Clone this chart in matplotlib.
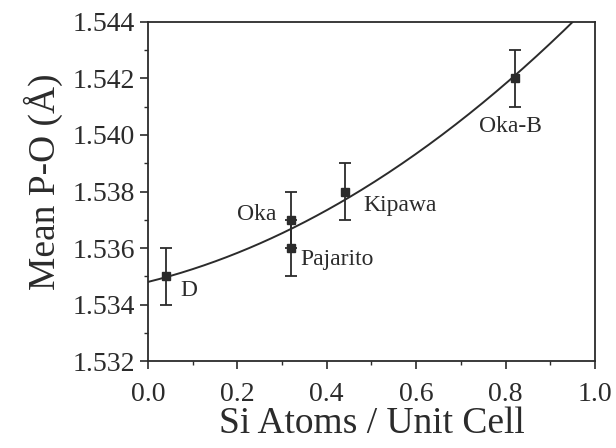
import numpy as np
import matplotlib
matplotlib.use("Agg")
import matplotlib.pyplot as plt
from matplotlib.ticker import MultipleLocator

# samples: Si atoms per unit cell vs mean P-O distance
names = ["D", "Oka", "Pajarito", "Kipawa", "Oka-B"]
si = [0.04, 0.32, 0.32, 0.44, 0.82]
po = [1.535, 1.537, 1.536, 1.538, 1.542]
err = [0.001, 0.001, 0.001, 0.001, 0.001]

# label anchor points (data coords) and alignment
label_x = [0.072, 0.287, 0.342, 0.483, 0.81]
label_y = [1.5345, 1.5372, 1.5356, 1.5375, 1.5403]
label_ha = ["left", "right", "left", "left", "center"]

# fitted curve coefficients (quadratic)
fit_c = [0.006066, 0.003922, 1.5348]

plt.rcParams["font.family"] = ["Liberation Serif", "DejaVu Serif"]
ink = "#2b2b2b"

fig = plt.figure(figsize=(6.16, 4.48), dpi=100)
ax = fig.add_axes([0.240, 0.194, 0.726, 0.757])

xs = np.linspace(0, 1, 200)
ax.plot(xs, np.polyval(fit_c, xs), color=ink, lw=1.4)
ax.errorbar(si, po, yerr=err, fmt="s", color=ink, ms=6, capsize=4,
            elinewidth=1.3, capthick=1.3)

for n, x, y, ha in zip(names, label_x, label_y, label_ha):
    ax.text(x, y, n, ha=ha, va="center", fontsize=17, color=ink)

ax.set_xlim(0, 1.0)
ax.set_ylim(1.532, 1.544)
ax.xaxis.set_major_locator(MultipleLocator(0.2))
ax.xaxis.set_minor_locator(MultipleLocator(0.1))
ax.yaxis.set_major_locator(MultipleLocator(0.002))
ax.yaxis.set_minor_locator(MultipleLocator(0.001))
ax.xaxis.set_major_formatter(plt.FormatStrFormatter("%.1f"))
ax.yaxis.set_major_formatter(plt.FormatStrFormatter("%.3f"))
ax.tick_params(which="both", direction="out", colors=ink, labelsize=20,
               top=False, right=False)
ax.tick_params(which="major", length=6, width=1.2)
ax.tick_params(which="minor", length=3, width=1.0)
ax.tick_params(axis="x", which="major", pad=9)
for s in ax.spines.values():
    s.set_color(ink)
    s.set_linewidth(1.3)

ax.set_xlabel("Si Atoms / Unit Cell", fontsize=27, color=ink, labelpad=0)
ax.set_ylabel("Mean P-O (Å)", fontsize=27, color=ink)
ax.yaxis.set_label_coords(-0.19, 0.53)

fig.savefig("out.png", dpi=100)
